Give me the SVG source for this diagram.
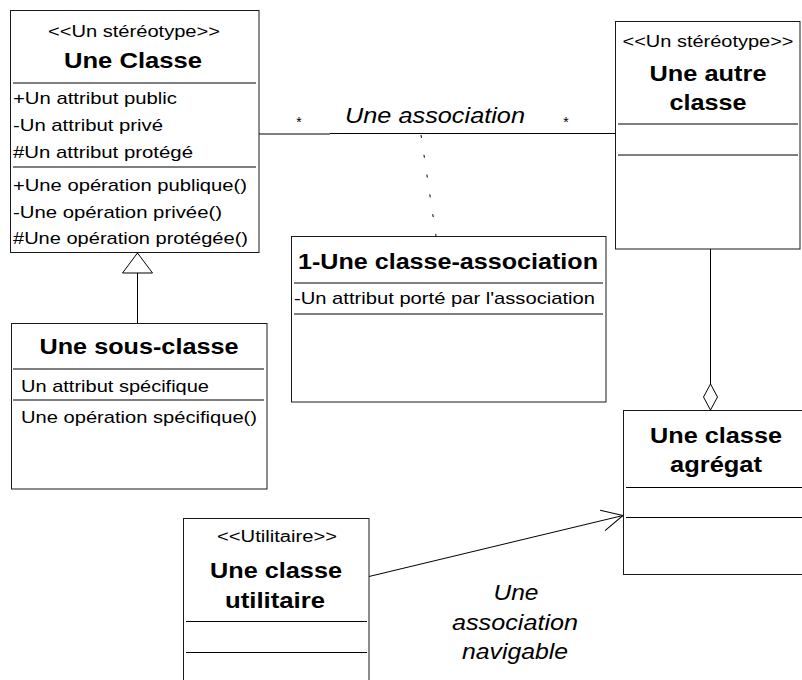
<svg xmlns="http://www.w3.org/2000/svg" width="802" height="680" viewBox="0 0 802 680">
  <defs>
    <style>
      .box { fill: #ffffff; stroke: #1a1a1a; stroke-width: 1; }
      .sep { stroke: #555555; stroke-width: 1.4; }
      .sepk { stroke: #000000; stroke-width: 1; }
      text { font-family: "Liberation Sans", Arial, sans-serif; fill: #000000; }
      .st { font-size: 16px; text-anchor: middle; }
      .nm { font-size: 22.5px; font-weight: bold; text-anchor: middle; }
      .mb { font-size: 17px; }
      .lb { font-size: 22.5px; font-style: italic; text-anchor: middle; }
      .mult { font-size: 14px; text-anchor: middle; }
      .ln { fill: none; stroke: #000000; stroke-width: 1; }
      .dash { fill: none; stroke: #000000; stroke-width: 1; stroke-dasharray: 3 17; }
    </style>
    <marker id="gen" viewBox="-22 -17 24 34" refX="0" refY="0" markerWidth="24" markerHeight="34" markerUnits="userSpaceOnUse" orient="auto">
      <path d="M0,0 L-20,-15 L-20,15 Z" fill="#ffffff" stroke="#000000" stroke-width="1"/>
    </marker>
    <marker id="agg" viewBox="-28 -9 30 18" refX="0" refY="0" markerWidth="30" markerHeight="18" markerUnits="userSpaceOnUse" orient="auto">
      <path d="M0,0 L-13,-7 L-26,0 L-13,7 Z" fill="#ffffff" stroke="#000000" stroke-width="1"/>
    </marker>
    <marker id="nav" viewBox="-24 -13 26 26" refX="0" refY="0" markerWidth="26" markerHeight="26" markerUnits="userSpaceOnUse" orient="auto">
      <path d="M-21,-10.5 L0,0 L-21,10.5" fill="none" stroke="#000000" stroke-width="1"/>
    </marker>
  </defs>

  <rect x="0" y="0" width="802" height="680" fill="#ffffff"/>

  <!-- connectors -->
  <g id="connectors">
    <path class="ln" d="M259,134 H330 M330,133.5 H615"/>
    <line class="dash" x1="421" y1="135" x2="436" y2="236"/>
    <line class="ln" x1="137.5" y1="323" x2="137.5" y2="253" marker-end="url(#gen)"/>
    <line class="ln" x1="710.5" y1="249" x2="710.5" y2="410" marker-end="url(#agg)"/>
    <line class="ln" x1="369" y1="576.5" x2="623" y2="515.5" marker-end="url(#nav)"/>
    <text class="mult" x="299" y="127">*</text>
    <text class="mult" x="566" y="127">*</text>
    <text class="lb" x="435" y="123" textLength="180" lengthAdjust="spacingAndGlyphs">Une association</text>
    <text class="lb" x="516" y="600" textLength="45" lengthAdjust="spacingAndGlyphs">Une</text>
    <text class="lb" x="515" y="630" textLength="126" lengthAdjust="spacingAndGlyphs">association</text>
    <text class="lb" x="515" y="659" textLength="106" lengthAdjust="spacingAndGlyphs">navigable</text>
  </g>

  <!-- class with stereotype, attributes and operations -->
  <g id="une-classe">
    <rect class="box" x="10.5" y="10.5" width="248.5" height="242"/>
    <text class="st" x="134" y="37" textLength="172" lengthAdjust="spacingAndGlyphs">&lt;&lt;Un stéréotype&gt;&gt;</text>
    <text class="nm" x="133" y="68" textLength="138" lengthAdjust="spacingAndGlyphs">Une Classe</text>
    <line class="sep" x1="13" y1="83" x2="256" y2="83"/>
    <text class="mb" x="13" y="104" textLength="164" lengthAdjust="spacingAndGlyphs">+Un attribut public</text>
    <text class="mb" x="13" y="131" textLength="150" lengthAdjust="spacingAndGlyphs">-Un attribut privé</text>
    <text class="mb" x="13" y="158" textLength="180" lengthAdjust="spacingAndGlyphs">#Un attribut protégé</text>
    <line class="sep" x1="13" y1="167" x2="256" y2="167"/>
    <text class="mb" x="13" y="191" textLength="234" lengthAdjust="spacingAndGlyphs">+Une opération publique()</text>
    <text class="mb" x="13" y="218" textLength="209" lengthAdjust="spacingAndGlyphs">-Une opération privée()</text>
    <text class="mb" x="13" y="244" textLength="235" lengthAdjust="spacingAndGlyphs">#Une opération protégée()</text>
  </g>

  <!-- subclass -->
  <g id="une-sous-classe">
    <rect class="box" x="11.5" y="323.5" width="255.5" height="165.5"/>
    <text class="nm" x="139" y="354" textLength="199" lengthAdjust="spacingAndGlyphs">Une sous-classe</text>
    <line class="sep" x1="13" y1="369" x2="264" y2="369"/>
    <text class="mb" x="21" y="392" textLength="188" lengthAdjust="spacingAndGlyphs">Un attribut spécifique</text>
    <line class="sep" x1="13" y1="400" x2="264" y2="400"/>
    <text class="mb" x="21" y="423" textLength="236" lengthAdjust="spacingAndGlyphs">Une opération spécifique()</text>
  </g>

  <!-- association class -->
  <g id="classe-association">
    <rect class="box" x="291.5" y="236.5" width="314.5" height="165.5"/>
    <text class="nm" x="448" y="269" textLength="300" lengthAdjust="spacingAndGlyphs">1-Une classe-association</text>
    <line class="sep" x1="294" y1="283" x2="603" y2="283"/>
    <text class="mb" x="294" y="304" textLength="301" lengthAdjust="spacingAndGlyphs">-Un attribut porté par l'association</text>
    <line class="sep" x1="294" y1="314" x2="603" y2="314"/>
  </g>

  <!-- second stereotyped class -->
  <g id="une-autre-classe">
    <rect class="box" x="615.5" y="21.5" width="184.5" height="227.5"/>
    <text class="st" x="708" y="47" textLength="171" lengthAdjust="spacingAndGlyphs">&lt;&lt;Un stéréotype&gt;&gt;</text>
    <text class="nm" x="708" y="81" textLength="117" lengthAdjust="spacingAndGlyphs">Une autre</text>
    <text class="nm" x="708" y="110" textLength="77" lengthAdjust="spacingAndGlyphs">classe</text>
    <line class="sep" x1="618" y1="124" x2="798" y2="124"/>
    <line class="sep" x1="618" y1="155" x2="798" y2="155"/>
  </g>

  <!-- aggregate class -->
  <g id="une-classe-agregat">
    <rect class="box" x="623.5" y="410.5" width="190" height="164"/>
    <text class="nm" x="716" y="443" textLength="132" lengthAdjust="spacingAndGlyphs">Une classe</text>
    <text class="nm" x="716" y="472" textLength="92" lengthAdjust="spacingAndGlyphs">agrégat</text>
    <line class="sepk" x1="626" y1="487.5" x2="802" y2="487.5"/>
    <line class="sepk" x1="626" y1="517.5" x2="802" y2="517.5"/>
  </g>

  <!-- utility class -->
  <g id="une-classe-utilitaire">
    <rect class="box" x="183.5" y="518.5" width="185.5" height="170"/>
    <text class="st" x="277" y="542" textLength="120" lengthAdjust="spacingAndGlyphs">&lt;&lt;Utilitaire&gt;&gt;</text>
    <text class="nm" x="276" y="578" textLength="132" lengthAdjust="spacingAndGlyphs">Une classe</text>
    <text class="nm" x="275" y="608" textLength="100" lengthAdjust="spacingAndGlyphs">utilitaire</text>
    <line class="sepk" x1="186" y1="621.5" x2="367" y2="621.5"/>
    <line class="sepk" x1="186" y1="652.5" x2="367" y2="652.5"/>
  </g>
</svg>
